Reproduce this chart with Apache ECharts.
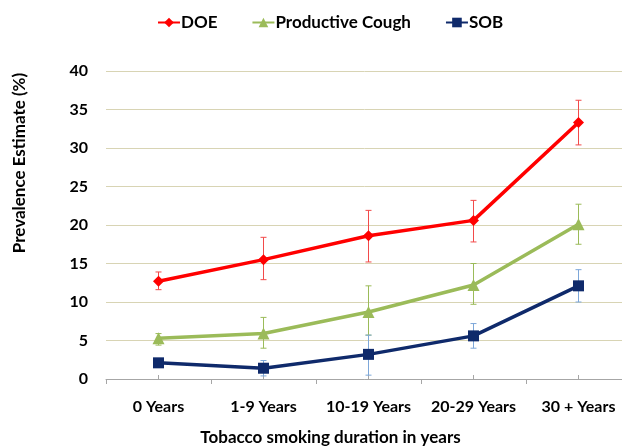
<!DOCTYPE html>
<html>
<head>
<meta charset="utf-8">
<script src="https://cdn.jsdelivr.net/npm/echarts@6/dist/echarts.min.js"></script>
<style>
  html, body { margin: 0; padding: 0; background: #fff; }
  #main { width: 622px; height: 446px; }
</style>
</head>
<body>
<div id="main"></div>
<script>
// categories
var years = ['0 Years', '1-9 Years', '10-19 Years', '20-29 Years', '30 + Years'];

// prevalence estimates (%)
var DOE   = [12.7, 15.5, 18.6, 20.6, 33.3];
var Cough = [5.3, 5.9, 8.7, 12.2, 20.1];
var SOB   = [2.1, 1.4, 3.2, 5.6, 12.1];

// confidence intervals (low, high)
var DOE_lo   = [11.6, 12.9, 15.2, 17.8, 30.4];
var DOE_hi   = [13.9, 18.4, 21.9, 23.2, 36.2];
var Cough_lo = [4.4, 4.0, 5.7, 9.7, 17.5];
var Cough_hi = [5.9, 8.0, 12.1, 15.0, 22.7];
var SOB_lo   = [1.8, 0.4, 0.5, 4.0, 10.0];
var SOB_hi   = [2.4, 2.4, 5.7, 7.2, 14.2];

var yTicks = [0, 5, 10, 15, 20, 25, 30, 35, 40];

var font = 'Lato';

function errData(lo, hi) {
  var out = [];
  for (var i = 0; i < lo.length; i++) out.push([i, lo[i], hi[i]]);
  return out;
}

function errSeries(name, lo, hi, color) {
  return {
    name: name + ' CI',
    type: 'custom',
    data: errData(lo, hi),
    z: 1,
    silent: true,
    renderItem: function (params, api) {
      var p1 = api.coord([api.value(0), api.value(1)]);
      var p2 = api.coord([api.value(0), api.value(2)]);
      var w = 3;
      var st = { stroke: color, lineWidth: 1 };
      return {
        type: 'group',
        children: [
          { type: 'line', shape: { x1: p1[0], y1: p1[1], x2: p2[0], y2: p2[1] }, style: st },
          { type: 'line', shape: { x1: p1[0] - w, y1: p1[1], x2: p1[0] + w, y2: p1[1] }, style: st },
          { type: 'line', shape: { x1: p2[0] - w, y1: p2[1], x2: p2[0] + w, y2: p2[1] }, style: st }
        ]
      };
    }
  };
}

var myChart = echarts.init(document.getElementById('main'));

var option = {
  backgroundColor: '#fff',
  animation: false,
  textStyle: { fontFamily: font },
  legend: {
    data: ['DOE', 'Productive Cough', 'SOB'],
    top: 9,
    left: 152,
    itemGap: 34,
    itemWidth: 22,
    itemHeight: 12,
    textStyle: { fontFamily: font, fontWeight: 'bold', fontSize: 17, color: '#000', padding: [0, 0, 0, -4] }
  },
  grid: { left: 106, right: -9, top: 71, bottom: 67, outerBoundsMode: 'none', containLabel: false },
  xAxis: [{
    type: 'category',
    data: years,
    boundaryGap: true,
    name: 'Tobacco smoking duration in years',
    nameLocation: 'middle',
    nameGap: 50,
    nameTextStyle: { fontFamily: font, fontWeight: 'bold', fontSize: 17, color: '#000', padding: [0, 76, 0, 0] },
    axisLine: { lineStyle: { color: '#a6a6a6', width: 1 } },
    axisTick: { show: true, length: 5, lineStyle: { color: '#a6a6a6' } },
    axisLabel: { interval: 0, fontFamily: font, fontWeight: 'bold', fontSize: 16, color: '#000', margin: 20 },
    splitLine: { show: false }
  }, {
    type: 'category',
    data: years,
    position: 'bottom',
    axisLine: { show: false },
    axisTick: { show: true, inside: true, alignWithLabel: true, interval: 0, length: 4, lineStyle: { color: '#a6a6a6' } },
    axisLabel: { show: false }
  }],
  yAxis: {
    type: 'value',
    min: 0,
    max: 40,
    interval: 5,
    name: 'Prevalence Estimate (%)',
    nameLocation: 'middle',
    nameRotate: 90,
    nameGap: 78,
    nameTextStyle: { fontFamily: font, fontWeight: 'bold', fontSize: 17, color: '#000', padding: [0, 0, 0, 124] },
    axisLine: { show: false },
    axisTick: { show: false },
    axisLabel: {
      fontFamily: font, fontWeight: 'bold', fontSize: 16, color: '#000', margin: 18,
      formatter: function (v) { return yTicks.indexOf(v) >= 0 ? v : ''; }
    },
    splitLine: { lineStyle: { color: '#d8d4b4', width: 1 } }
  },
  series: [
    errSeries('DOE', DOE_lo, DOE_hi, '#f24a4a'),
    errSeries('Productive Cough', Cough_lo, Cough_hi, '#9bbb59'),
    errSeries('SOB', SOB_lo, SOB_hi, '#7da7d9'),
    {
      name: 'DOE',
      type: 'line',
      data: DOE,
      symbol: 'diamond',
      symbolSize: 11,
      z: 3,
      itemStyle: { color: '#ff0000' },
      lineStyle: { color: '#ff0000', width: 3.5 }
    },
    {
      name: 'Productive Cough',
      type: 'line',
      data: Cough,
      symbol: 'triangle',
      symbolSize: 12,
      z: 3,
      itemStyle: { color: '#9bbb59' },
      lineStyle: { color: '#9bbb59', width: 3.5 }
    },
    {
      name: 'SOB',
      type: 'line',
      data: SOB,
      symbol: 'rect',
      symbolSize: 11,
      z: 3,
      itemStyle: { color: '#0f2a6b' },
      lineStyle: { color: '#0f2a6b', width: 3.5 }
    }
  ]
};

myChart.setOption(option);
</script>
</body>
</html>
